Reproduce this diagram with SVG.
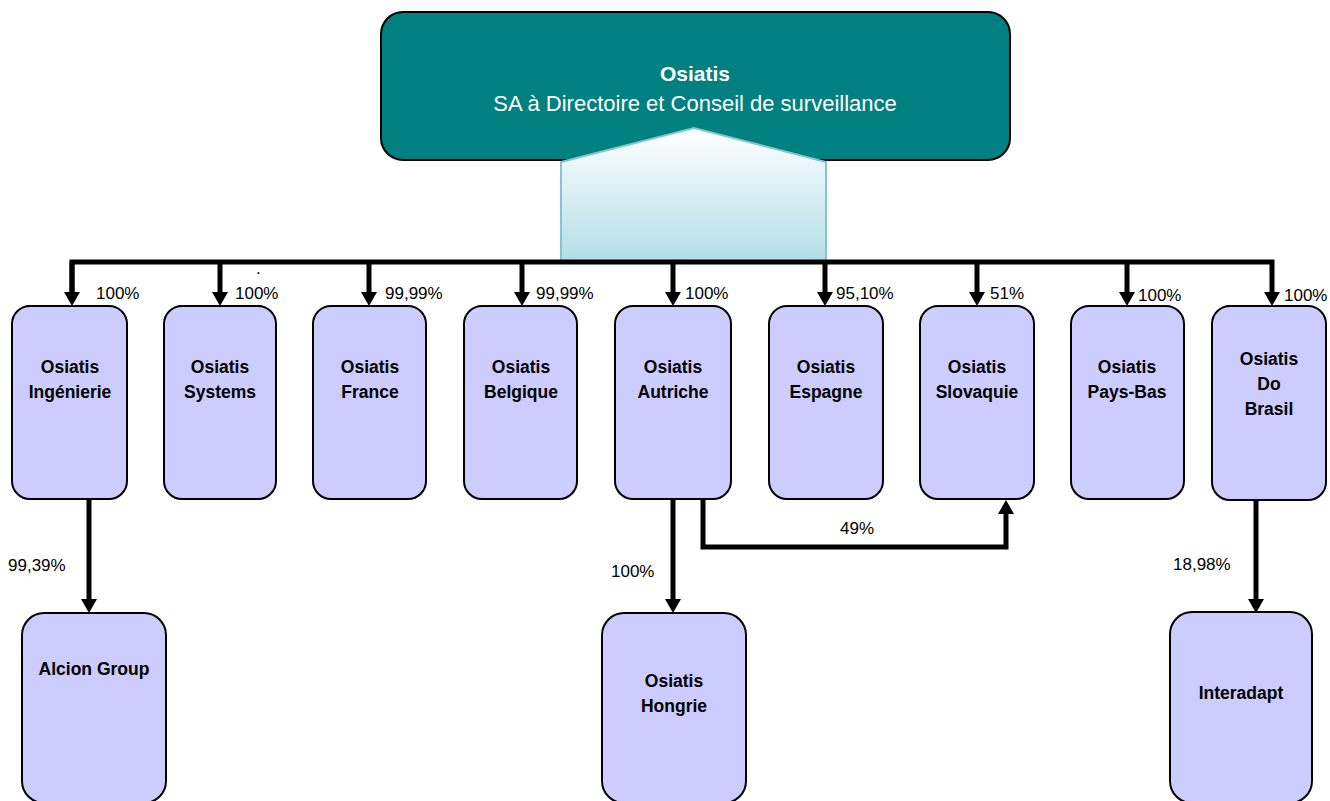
<svg xmlns="http://www.w3.org/2000/svg" width="1330" height="801" viewBox="0 0 1330 801">
<style>
.box{fill:#ccccff;stroke:#000;stroke-width:2}
.lbl{font-family:"Liberation Sans",Arial,sans-serif;font-size:17.5px;font-weight:bold;text-anchor:middle;fill:#000}
.pct{font-family:"Liberation Sans",Arial,sans-serif;font-size:17px;fill:#000}
.ln{fill:none;stroke:#000;stroke-width:5;stroke-linejoin:miter}
</style>
<defs>
<marker id="ah" viewBox="0 0 14 16" refX="0" refY="8" markerWidth="14" markerHeight="16" markerUnits="userSpaceOnUse" orient="auto">
<path d="M0,0 L14,8 L0,16 z" fill="#000"/>
</marker>
<linearGradient id="pg" x1="0" y1="0" x2="0" y2="1">
<stop offset="0" stop-color="#ffffff"/>
<stop offset="1" stop-color="#b3dde6"/>
</linearGradient>
</defs>
<rect width="1330" height="801" fill="#fff"/>
<g id="root">
<rect x="381" y="12" width="629" height="148" rx="22" fill="#008080" stroke="#000" stroke-width="2"/>
<text x="695" y="81" font-family="Liberation Sans,Arial,sans-serif" font-size="21" font-weight="bold" fill="#fff" text-anchor="middle">Osiatis</text>
<text x="695" y="111" font-family="Liberation Sans,Arial,sans-serif" font-size="22" fill="#fff" text-anchor="middle">SA à Directoire et Conseil de surveillance</text>
<polygon points="561,162 694,128 826,162 826,262 561,262" fill="url(#pg)" stroke="#86c4d2" stroke-width="2"/>
</g>
<g id="connectors">
<path class="ln" d="M72,292 V262 H1272 V292" marker-end="url(#ah)"/>
<path class="ln" d="M72,262 V292" marker-end="url(#ah)"/>
<path class="ln" d="M220,262 V292" marker-end="url(#ah)"/>
<path class="ln" d="M369,262 V292" marker-end="url(#ah)"/>
<path class="ln" d="M522,262 V292" marker-end="url(#ah)"/>
<path class="ln" d="M673,262 V292" marker-end="url(#ah)"/>
<path class="ln" d="M825,262 V292" marker-end="url(#ah)"/>
<path class="ln" d="M977,262 V292" marker-end="url(#ah)"/>
<path class="ln" d="M1127,262 V292" marker-end="url(#ah)"/>
<path class="ln" d="M89,500 V599" marker-end="url(#ah)"/>
<path class="ln" d="M673,500 V599" marker-end="url(#ah)"/>
<path class="ln" d="M1256,500 V599" marker-end="url(#ah)"/>
<path class="ln" d="M703,500 V547 H1006 V514" marker-end="url(#ah)"/>
<text class="pct" x="96" y="299">100%</text>
<text class="pct" x="235" y="299">100%</text>
<text class="pct" x="385" y="299">99,99%</text>
<text class="pct" x="536" y="299">99,99%</text>
<text class="pct" x="685" y="299">100%</text>
<text class="pct" x="836" y="299">95,10%</text>
<text class="pct" x="990" y="299">51%</text>
<text class="pct" x="1138" y="301">100%</text>
<text class="pct" x="1284" y="301">100%</text>
<text class="pct" x="8" y="571">99,39%</text>
<text class="pct" x="611" y="577">100%</text>
<text class="pct" x="840" y="534">49%</text>
<text class="pct" x="1173" y="570">18,98%</text>
<text class="pct" x="256" y="274" font-size="10">.</text>
</g>
<g id="n-ingenierie"><rect class="box" x="12" y="306" width="115" height="193" rx="18"/><text class="lbl" x="70" y="373">Osiatis</text><text class="lbl" x="70" y="398">Ingénierie</text></g>
<g id="n-systems"><rect class="box" x="164" y="306" width="112" height="193" rx="18"/><text class="lbl" x="220" y="373">Osiatis</text><text class="lbl" x="220" y="398">Systems</text></g>
<g id="n-france"><rect class="box" x="313" y="306" width="113" height="193" rx="18"/><text class="lbl" x="370" y="373">Osiatis</text><text class="lbl" x="370" y="398">France</text></g>
<g id="n-belgique"><rect class="box" x="464" y="306" width="113" height="193" rx="18"/><text class="lbl" x="521" y="373">Osiatis</text><text class="lbl" x="521" y="398">Belgique</text></g>
<g id="n-autriche"><rect class="box" x="615" y="306" width="116" height="193" rx="18"/><text class="lbl" x="673" y="373">Osiatis</text><text class="lbl" x="673" y="398">Autriche</text></g>
<g id="n-espagne"><rect class="box" x="769" y="306" width="114" height="193" rx="18"/><text class="lbl" x="826" y="373">Osiatis</text><text class="lbl" x="826" y="398">Espagne</text></g>
<g id="n-slovaquie"><rect class="box" x="920" y="306" width="114" height="193" rx="18"/><text class="lbl" x="977" y="373">Osiatis</text><text class="lbl" x="977" y="398">Slovaquie</text></g>
<g id="n-paysbas"><rect class="box" x="1071" y="306" width="113" height="193" rx="18"/><text class="lbl" x="1127" y="373">Osiatis</text><text class="lbl" x="1127" y="398">Pays-Bas</text></g>
<g id="n-brasil"><rect class="box" x="1212" y="306" width="114" height="194" rx="18"/><text class="lbl" x="1269" y="365">Osiatis</text><text class="lbl" x="1269" y="390">Do</text><text class="lbl" x="1269" y="415">Brasil</text></g>
<g id="n-alcion"><rect class="box" x="22" y="613" width="144" height="190" rx="22"/><text class="lbl" x="94" y="675">Alcion Group</text></g>
<g id="n-hongrie"><rect class="box" x="602" y="613" width="144" height="190" rx="22"/><text class="lbl" x="674" y="687">Osiatis</text><text class="lbl" x="674" y="712">Hongrie</text></g>
<g id="n-interadapt"><rect class="box" x="1170" y="612" width="142" height="191" rx="22"/><text class="lbl" x="1241" y="699">Interadapt</text></g>
</svg>
